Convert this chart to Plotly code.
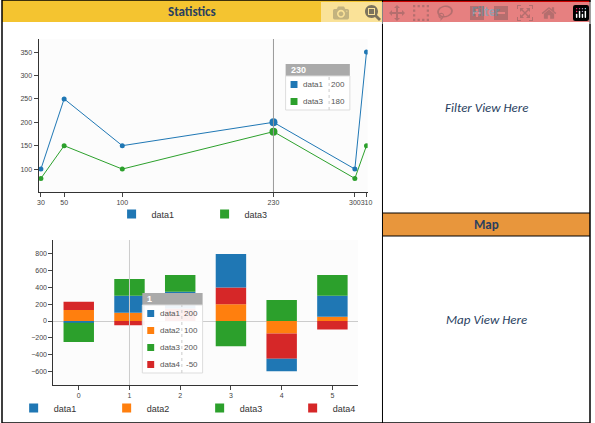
import plotly.graph_objects as go

W, H = 595, 423

# line chart data
line_x = [30, 50, 100, 230, 300, 310]
data1_line = [100, 250, 150, 200, 100, 350]
data3_line = [80, 150, 100, 180, 80, 150]

# bar chart data
bar_x = [0, 1, 2, 3, 4, 5]
bar_data1 = [-20, 200, 200, 400, -150, 250]
bar_data2 = [130, 100, 0, 200, -150, 50]
bar_data3 = [-230, 200, 200, -300, 250, 250]
bar_data4 = [100, -50, 150, 200, -300, -100]

BLUE, ORANGE, GREEN, RED = "#1f77b4", "#ff7f0e", "#2ca02c", "#d62728"


def px(x):
    return x / W


def py(y):
    return 1 - y / H


fig = go.Figure()

fig.add_trace(go.Scatter(x=line_x, y=data1_line, name="data1", mode="lines+markers",
                         line=dict(color=BLUE, width=1), marker=dict(size=5),
                         xaxis="x", yaxis="y", showlegend=False))
fig.add_trace(go.Scatter(x=line_x, y=data3_line, name="data3", mode="lines+markers",
                         line=dict(color=GREEN, width=1), marker=dict(size=5),
                         xaxis="x", yaxis="y", showlegend=False))
# highlighted points at 230
fig.add_trace(go.Scatter(x=[230, 230], y=[data1_line[3], data3_line[3]], mode="markers",
                         marker=dict(size=8, color=[BLUE, GREEN]), showlegend=False,
                         xaxis="x", yaxis="y"))

# stacking order as drawn: data2, data4, data1, data3
for name, vals, col in [("data2", bar_data2, ORANGE), ("data4", bar_data4, RED),
                        ("data1", bar_data1, BLUE), ("data3", bar_data3, GREEN)]:
    fig.add_trace(go.Bar(x=bar_x, y=vals, name=name, marker=dict(color=col, line=dict(width=0)),
                         width=0.6, xaxis="x2", yaxis="y2", showlegend=False))

# legend entries with square swatches
for name, col in [("data1", BLUE), ("data3", GREEN)]:
    fig.add_trace(go.Scatter(x=[None], y=[None], name=name, mode="markers",
                             marker=dict(symbol="square", size=9, color=col),
                             xaxis="x", yaxis="y", legend="legend"))
for name, col in [("data1", BLUE), ("data2", ORANGE), ("data3", GREEN), ("data4", RED)]:
    fig.add_trace(go.Scatter(x=[None], y=[None], name=name, mode="markers",
                             marker=dict(symbol="square", size=9, color=col),
                             xaxis="x2", yaxis="y2", legend="legend2"))

axis_font = dict(size=7, color="#444", family="Arial")
leg_font = dict(size=9, family="Arial", color="#333")
fig.update_layout(
    width=W, height=H, margin=dict(l=0, r=0, t=0, b=0),
    paper_bgcolor="white", plot_bgcolor="#fcfcfc",
    barmode="relative",
    xaxis=dict(domain=[px(37), px(370)], range=[28, 311], tickvals=[30, 50, 100, 230, 300, 310],
               ticktext=["30", "50", "100", "230", "300", "310"], showgrid=False, zeroline=False,
               showline=True, linecolor="#333", ticks="outside", ticklen=4, tickfont=axis_font,
               tickangle=0, anchor="y"),
    yaxis=dict(domain=[py(192), py(39)], range=[51, 378], tickvals=[100, 150, 200, 250, 300, 350],
               showgrid=False, zeroline=False, showline=True, linecolor="#333", ticks="outside",
               ticklen=4, tickfont=axis_font, anchor="x"),
    xaxis2=dict(domain=[px(52), px(360)], range=[-0.5, 5.5], tickvals=bar_x, showgrid=False,
                zeroline=False, showline=True, linecolor="#333", ticks="outside", ticklen=4,
                tickfont=axis_font, tickangle=0, anchor="y2"),
    yaxis2=dict(domain=[py(385), py(240)], range=[-764, 967],
                tickvals=[-600, -400, -200, 0, 200, 400, 600, 800], showgrid=False,
                zeroline=True, zerolinecolor="#ccc", zerolinewidth=1, showline=True,
                linecolor="#333", ticks="outside", ticklen=4, tickfont=axis_font, anchor="x2"),
    legend=dict(orientation="h", x=px(205), xanchor="center", y=py(214), yanchor="middle",
                font=leg_font, entrywidth=48, entrywidthmode="pixels", itemwidth=30,
                bgcolor="rgba(0,0,0,0)"),
    legend2=dict(orientation="h", x=px(200), xanchor="center", y=py(408), yanchor="middle",
                 font=leg_font, entrywidth=48, entrywidthmode="pixels", itemwidth=30,
                 bgcolor="rgba(0,0,0,0)"),
)

shapes = [
    # hover guide lines
    dict(type="line", xref="x", yref="paper", x0=230, x1=230, y0=py(192), y1=py(39),
         line=dict(color="#999", width=1)),
    dict(type="line", xref="x2", yref="paper", x0=1, x1=1, y0=py(385), y1=py(240),
         line=dict(color="#ccc", width=1)),
    # panel headers
    dict(type="rect", xref="paper", yref="paper", x0=0, x1=px(385), y0=py(22), y1=1,
         fillcolor="#f4c430", line=dict(width=0)),
    dict(type="rect", xref="paper", yref="paper", x0=px(385), x1=1, y0=py(22), y1=1,
         fillcolor="#cc0000", line=dict(width=0)),
    dict(type="rect", xref="paper", yref="paper", x0=px(385), x1=1, y0=py(236), y1=py(213),
         fillcolor="#e8963c", line=dict(width=0)),
    # borders
    dict(type="rect", xref="paper", yref="paper", x0=0, x1=1, y0=0, y1=1,
         line=dict(color="black", width=1.5)),
    dict(type="line", xref="paper", yref="paper", x0=px(385), x1=px(385), y0=0, y1=1,
         line=dict(color="black", width=1)),
    dict(type="line", xref="paper", yref="paper", x0=px(385), x1=1, y0=py(213), y1=py(213),
         line=dict(color="black", width=1)),
    dict(type="line", xref="paper", yref="paper", x0=px(385), x1=1, y0=py(236), y1=py(236),
         line=dict(color="black", width=1)),
]

annotations = [
    dict(text="<b>Statistics</b>", x=px(192), y=py(11), font=dict(size=13, family="Calibri, Liberation Sans")),
    dict(text="<b>Filter</b>", x=px(490), y=py(11), font=dict(size=13, family="Calibri, Liberation Sans")),
    dict(text="<b>Map</b>", x=px(490), y=py(224), font=dict(size=13, family="Calibri, Liberation Sans")),
    dict(text="<i>Filter View Here</i>", x=px(490), y=py(107), font=dict(size=13, family="Calibri, Liberation Sans")),
    dict(text="<i>Map View Here</i>", x=px(490), y=py(319), font=dict(size=13, family="Calibri, Liberation Sans")),
]


def tooltip(x0, y0, w, title, rows):
    # header
    shapes.append(dict(type="rect", xref="paper", yref="paper", x0=px(x0), x1=px(x0 + w),
                       y0=py(y0 + 12), y1=py(y0), fillcolor="#aaa", line=dict(width=0)))
    annotations.append(dict(text="<b>" + title + "</b>", x=px(x0 + 3), y=py(y0 + 6), xanchor="left",
                            font=dict(size=9, color="white", family="Arial")))
    rh = 17
    shapes.append(dict(type="rect", xref="paper", yref="paper", x0=px(x0), x1=px(x0 + w),
                       y0=py(y0 + 12 + rh * len(rows)), y1=py(y0 + 12), fillcolor="rgba(255,255,255,0.93)",
                       line=dict(color="#ddd", width=1)))
    for i, (name, val, col) in enumerate(rows):
        yc = y0 + 12 + rh * i + rh / 2
        shapes.append(dict(type="rect", xref="paper", yref="paper", x0=px(x0 + 5), x1=px(x0 + 12),
                           y0=py(yc + 3.5), y1=py(yc - 3.5), fillcolor=col, line=dict(width=0)))
        annotations.append(dict(text=name, x=px(x0 + 16), y=py(yc), xanchor="left",
                                font=dict(size=8, color="#555", family="Arial")))
        annotations.append(dict(text=str(val), x=px(x0 + w - 3), y=py(yc), xanchor="right",
                                font=dict(size=8, color="#555", family="Arial")))
    shapes.append(dict(type="line", xref="paper", yref="paper", x0=px(x0 + w - 21), x1=px(x0 + w - 21),
                       y0=py(y0 + 12 + rh * len(rows)), y1=py(y0 + 12), line=dict(color="#ccc", width=1, dash="dot")))


tooltip(287, 64, 65, "230", [("data1", data1_line[3], BLUE), ("data3", data3_line[3], GREEN)])
tooltip(142, 293, 61, "1", [("data1", bar_data1[1], BLUE), ("data2", bar_data2[1], ORANGE),
                            ("data3", bar_data3[1], GREEN), ("data4", bar_data4[1], RED)])

for a in annotations:
    a.update(xref="paper", yref="paper", showarrow=False)
    a.setdefault("xanchor", "center")
    a["yanchor"] = "middle"

fig.update_layout(shapes=shapes, annotations=annotations)

fig.write_html("out.html", post_script="document.body.style.margin='0';document.body.style.overflow='hidden';")
